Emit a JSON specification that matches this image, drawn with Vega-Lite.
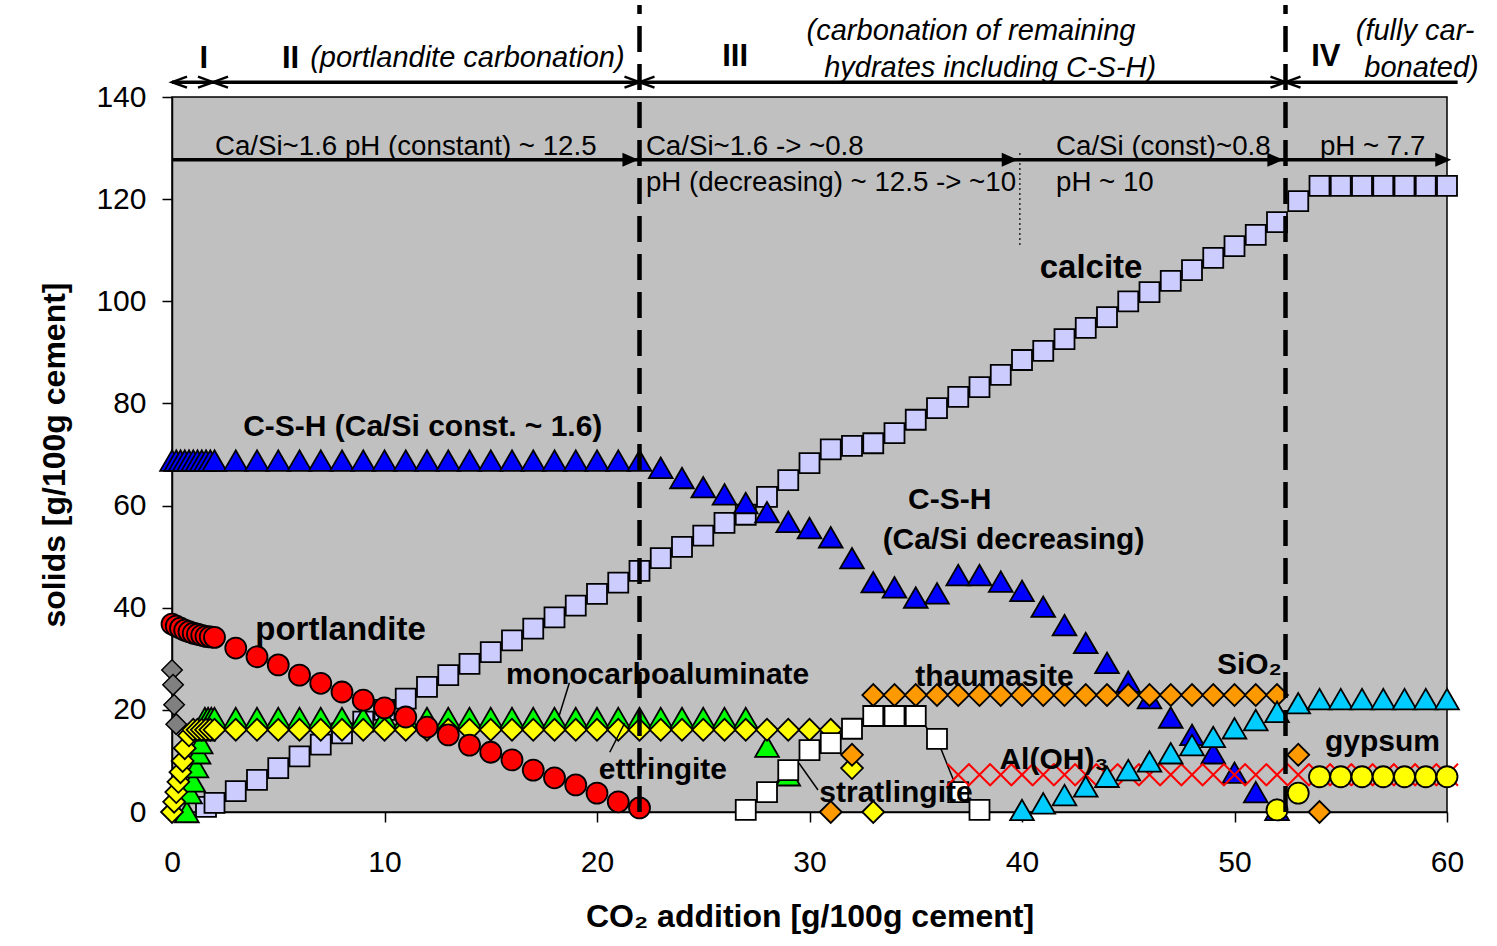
{
"$schema": "https://vega.github.io/schema/vega-lite/v6.json",
"width": 1275, "height": 715,
"autosize": {"type": "none"},
"padding": {"left": 172, "top": 97, "right": 50, "bottom": 134},
"background": "white",
"config": {
  "view": {"fill": "#C0C0C0", "stroke": "black", "strokeWidth": 1.5},
  "font": "Liberation Sans, Arial, sans-serif",
  "axis": {"grid": false, "domainColor": "black", "domainWidth": 1.5, "tickColor": "black", "tickWidth": 1.5, "tickSize": 10, "labelFlush": false,
           "labelFont": "Liberation Sans, Arial, sans-serif", "labelFontSize": 30, "labelColor": "black",
           "titleFont": "Liberation Sans, Arial, sans-serif", "titleFontSize": 32, "titleFontWeight": "bold", "titleColor": "black"}
},
"datasets": {
  "calcite": [{"x":1.6,"y":1.0},{"x":2,"y":1.8},{"x":3,"y":4.1},{"x":4,"y":6.3},{"x":5,"y":8.6},{"x":6,"y":10.9},{"x":7,"y":13.2},{"x":8,"y":15.4},{"x":9,"y":17.7},{"x":10,"y":20},{"x":11,"y":22.2},{"x":12,"y":24.5},{"x":13,"y":26.8},{"x":14,"y":29},{"x":15,"y":31.3},{"x":16,"y":33.6},{"x":17,"y":35.9},{"x":18,"y":38.1},{"x":19,"y":40.4},{"x":20,"y":42.7},{"x":21,"y":44.9},{"x":22,"y":47.2},{"x":23,"y":49.7},{"x":24,"y":51.9},{"x":25,"y":54.1},{"x":26,"y":56.6},{"x":27,"y":58.2},{"x":28,"y":61.7},{"x":29,"y":65},{"x":30,"y":68.3},{"x":31,"y":71},{"x":32,"y":71.7},{"x":33,"y":72.2},{"x":34,"y":74.2},{"x":35,"y":76.8},{"x":36,"y":79.1},{"x":37,"y":81.3},{"x":38,"y":83.2},{"x":39,"y":85.6},{"x":40,"y":88.5},{"x":41,"y":90.3},{"x":42,"y":92.6},{"x":43,"y":94.8},{"x":44,"y":96.9},{"x":45,"y":100},{"x":46,"y":101.8},{"x":47,"y":104},{"x":48,"y":106.1},{"x":49,"y":108.5},{"x":50,"y":110.8},{"x":51,"y":113},{"x":52,"y":115.5},{"x":53,"y":119.6},{"x":54,"y":122.6},{"x":55,"y":122.6},{"x":56,"y":122.6},{"x":57,"y":122.6},{"x":58,"y":122.6},{"x":59,"y":122.6},{"x":60,"y":122.6}],
  "csh": [{"x":0,"y":68.8},{"x":0.2,"y":68.8},{"x":0.4,"y":68.8},{"x":0.6,"y":68.8},{"x":0.8,"y":68.8},{"x":1.0,"y":68.8},{"x":1.2,"y":68.8},{"x":1.4,"y":68.8},{"x":1.6,"y":68.8},{"x":1.8,"y":68.8},{"x":2,"y":68.8},{"x":3,"y":68.8},{"x":4,"y":68.8},{"x":5,"y":68.8},{"x":6,"y":68.8},{"x":7,"y":68.8},{"x":8,"y":68.8},{"x":9,"y":68.8},{"x":10,"y":68.8},{"x":11,"y":68.8},{"x":12,"y":68.8},{"x":13,"y":68.8},{"x":14,"y":68.8},{"x":15,"y":68.8},{"x":16,"y":68.8},{"x":17,"y":68.8},{"x":18,"y":68.8},{"x":19,"y":68.8},{"x":20,"y":68.8},{"x":21,"y":68.8},{"x":22,"y":68.8},{"x":23,"y":67.4},{"x":24,"y":65.4},{"x":25,"y":63.6},{"x":26,"y":62.2},{"x":27,"y":60.5},{"x":28,"y":58.7},{"x":29,"y":56.8},{"x":30,"y":55.6},{"x":31,"y":53.8},{"x":32,"y":49.7},{"x":33,"y":45},{"x":34,"y":44},{"x":35,"y":42},{"x":36,"y":42.8},{"x":37,"y":46.4},{"x":38,"y":46.4},{"x":39,"y":45.1},{"x":40,"y":43.3},{"x":41,"y":40.2},{"x":42,"y":36.6},{"x":43,"y":33.1},{"x":44,"y":29.2},{"x":45,"y":25.5},{"x":46,"y":22.3},{"x":47,"y":18.5},{"x":48,"y":15.1},{"x":49,"y":11.5},{"x":50,"y":7.7},{"x":51,"y":3.9},{"x":52,"y":0.4}],
  "mono": [{"x":0.7,"y":0},{"x":0.85,"y":3.7},{"x":1.0,"y":6},{"x":1.15,"y":8.8},{"x":1.25,"y":11.5},{"x":1.35,"y":13.5},{"x":1.45,"y":16},{"x":1.55,"y":18.4},{"x":1.7,"y":18.4},{"x":1.85,"y":18.4},{"x":2,"y":18.4},{"x":3,"y":18.4},{"x":4,"y":18.4},{"x":5,"y":18.4},{"x":6,"y":18.4},{"x":7,"y":18.4},{"x":8,"y":18.4},{"x":9,"y":18.4},{"x":10,"y":18.4},{"x":11,"y":18.4},{"x":12,"y":18.4},{"x":13,"y":18.4},{"x":14,"y":18.4},{"x":15,"y":18.4},{"x":16,"y":18.4},{"x":17,"y":18.4},{"x":18,"y":18.4},{"x":19,"y":18.4},{"x":20,"y":18.4},{"x":21,"y":18.4},{"x":22,"y":18.4},{"x":23,"y":18.4},{"x":24,"y":18.4},{"x":25,"y":18.4},{"x":26,"y":18.4},{"x":27,"y":18.4},{"x":28,"y":12.8},{"x":29,"y":7.2}],
  "ett": [{"x":0,"y":0},{"x":0.1,"y":2},{"x":0.2,"y":3.9},{"x":0.3,"y":5.9},{"x":0.4,"y":7.8},{"x":0.5,"y":10},{"x":0.6,"y":12.5},{"x":0.8,"y":15},{"x":1.0,"y":16.1},{"x":1.2,"y":16.1},{"x":1.4,"y":16.1},{"x":1.6,"y":16.1},{"x":1.8,"y":16.1},{"x":2,"y":16.1},{"x":3,"y":16.1},{"x":4,"y":16.1},{"x":5,"y":16.1},{"x":6,"y":16.1},{"x":7,"y":16.1},{"x":8,"y":16.1},{"x":9,"y":16.1},{"x":10,"y":16.1},{"x":11,"y":16.1},{"x":12,"y":16.1},{"x":13,"y":16.1},{"x":14,"y":16.1},{"x":15,"y":16.1},{"x":16,"y":16.1},{"x":17,"y":16.1},{"x":18,"y":16.1},{"x":19,"y":16.1},{"x":20,"y":16.1},{"x":21,"y":16.1},{"x":22,"y":16.1},{"x":23,"y":16.1},{"x":24,"y":16.1},{"x":25,"y":16.1},{"x":26,"y":16.1},{"x":27,"y":16.1},{"x":28,"y":16.1},{"x":29,"y":16.1},{"x":30,"y":16.1},{"x":31,"y":16.1},{"x":32,"y":8.6},{"x":33,"y":0}],
  "port": [{"x":0,"y":36.8},{"x":0.2,"y":36.4},{"x":0.4,"y":36},{"x":0.6,"y":35.6},{"x":0.8,"y":35.3},{"x":1.0,"y":35},{"x":1.2,"y":34.8},{"x":1.4,"y":34.6},{"x":1.6,"y":34.4},{"x":1.8,"y":34.3},{"x":2,"y":34.2},{"x":3,"y":32.1},{"x":4,"y":30.4},{"x":5,"y":28.8},{"x":6,"y":26.8},{"x":7,"y":25.2},{"x":8,"y":23.5},{"x":9,"y":21.9},{"x":10,"y":20.4},{"x":11,"y":18.6},{"x":12,"y":16.6},{"x":13,"y":15.1},{"x":14,"y":13.1},{"x":15,"y":11.7},{"x":16,"y":10.2},{"x":17,"y":8.2},{"x":18,"y":6.7},{"x":19,"y":5.3},{"x":20,"y":3.7},{"x":21,"y":2},{"x":22,"y":0.8}],
  "gray": [{"x":0,"y":27.8},{"x":0.05,"y":24.9},{"x":0.1,"y":21},{"x":0.2,"y":17.2}],
  "strat": [{"x":27,"y":0.4},{"x":28,"y":3.9},{"x":29,"y":8.2},{"x":30,"y":12.1},{"x":31,"y":13.5},{"x":32,"y":16.3},{"x":33,"y":18.8},{"x":34,"y":18.8},{"x":35,"y":18.8},{"x":36,"y":14.3},{"x":37,"y":3.9},{"x":38,"y":0.4}],
  "thaum": [{"x":31,"y":0},{"x":32,"y":11.2},{"x":33,"y":22.9},{"x":34,"y":22.9},{"x":35,"y":22.9},{"x":36,"y":22.9},{"x":37,"y":22.9},{"x":38,"y":22.9},{"x":39,"y":22.9},{"x":40,"y":22.9},{"x":41,"y":22.9},{"x":42,"y":22.9},{"x":43,"y":22.9},{"x":44,"y":22.9},{"x":45,"y":22.9},{"x":46,"y":22.9},{"x":47,"y":22.9},{"x":48,"y":22.9},{"x":49,"y":22.9},{"x":50,"y":22.9},{"x":51,"y":22.9},{"x":52,"y":22.9},{"x":53,"y":11.2},{"x":54,"y":0}],
  "aloh": [{"x":37,"y":7.3},{"x":38,"y":7.3},{"x":39,"y":7.3},{"x":40,"y":7.3},{"x":41,"y":7.3},{"x":42,"y":7.3},{"x":43,"y":7.3},{"x":44,"y":7.3},{"x":45,"y":7.3},{"x":46,"y":7.3},{"x":47,"y":7.3},{"x":48,"y":7.3},{"x":49,"y":7.3},{"x":50,"y":7.3},{"x":51,"y":7.3},{"x":52,"y":7.3},{"x":53,"y":7.3},{"x":54,"y":7.3},{"x":55,"y":7.3},{"x":56,"y":7.3},{"x":57,"y":7.3},{"x":58,"y":7.3},{"x":59,"y":7.3},{"x":60,"y":7.3}],
  "sio2": [{"x":40,"y":0.4},{"x":41,"y":1.7},{"x":42,"y":3.3},{"x":43,"y":5},{"x":44,"y":6.9},{"x":45,"y":8.2},{"x":46,"y":9.9},{"x":47,"y":11.5},{"x":48,"y":13.1},{"x":49,"y":14.7},{"x":50,"y":16.4},{"x":51,"y":18},{"x":52,"y":19.6},{"x":53,"y":21.3},{"x":54,"y":22.1},{"x":55,"y":22.1},{"x":56,"y":22.1},{"x":57,"y":22.1},{"x":58,"y":22.1},{"x":59,"y":22.1},{"x":60,"y":22.1}],
  "gyp": [{"x":52,"y":0.4},{"x":53,"y":3.7},{"x":54,"y":6.9},{"x":55,"y":6.9},{"x":56,"y":6.9},{"x":57,"y":6.9},{"x":58,"y":6.9},{"x":59,"y":6.9},{"x":60,"y":6.9}],
  "rules": [
    {"k":"dash","x":22,"x2":22,"y":0,"y2":158},
    {"k":"dash","x":52.4,"x2":52.4,"y":0,"y2":158},
    {"k":"dot","x":39.9,"x2":39.9,"y":111,"y2":129.6},
    {"k":"arrow","x":0,"x2":60.5,"y":142.9,"y2":142.9},
    {"k":"arrow","x":0,"x2":60.0,"y":127.7,"y2":127.7},
    {"k":"leader","x":18.7,"x2":18.2,"y":25.3,"y2":18.6},
    {"k":"leader","x":21.3,"x2":20.6,"y":17.4,"y2":11.7},
    {"k":"leader","x":29.5,"x2":30.4,"y":9.6,"y2":4.3}
  ],
  "heads": [
    {"k":"lc","x":0,"y":142.9},{"k":"lc","x":1.93,"y":142.9},{"k":"lc","x":22,"y":142.9},{"k":"lc","x":52.4,"y":142.9},
    {"k":"rc","x":1.93,"y":142.9},{"k":"rc","x":22,"y":142.9},{"k":"rc","x":52.4,"y":142.9},
    {"k":"rf","x":21.95,"y":127.7},{"k":"rf","x":39.8,"y":127.7},{"k":"rf","x":52.3,"y":127.7},{"k":"rf","x":60.2,"y":127.7}
  ],
  "labels": [
    {"k":"roman","x":1.5,"y":147.5,"t":"I"},
    {"k":"roman","x":5.58,"y":147.5,"t":"II"},
    {"k":"roman","x":26.5,"y":147.8,"t":"III"},
    {"k":"roman","x":54.3,"y":147.8,"t":"IV"},
    {"k":"ital","x":13.9,"y":147.6,"t":"(portlandite carbonation)"},
    {"k":"ital","x":37.6,"y":152.9,"t":"(carbonation of remaining"},
    {"k":"ital","x":38.5,"y":145.7,"t":"hydrates including C-S-H)"},
    {"k":"ital","x":58.5,"y":152.9,"t":"(fully car-"},
    {"k":"ital","x":58.8,"y":145.7,"t":"bonated)"},
    {"k":"norm","x":11,"y":130.2,"t":"Ca/Si~1.6 pH (constant) ~ 12.5"},
    {"k":"norm","x":56.5,"y":130.2,"t":"pH ~ 7.7"},
    {"k":"normL","x":22.3,"y":130.2,"t":"Ca/Si~1.6 -> ~0.8"},
    {"k":"normL","x":22.3,"y":123.2,"t":"pH (decreasing) ~ 12.5 -> ~10"},
    {"k":"normL","x":41.6,"y":130.2,"t":"Ca/Si (const)~0.8"},
    {"k":"normL","x":41.6,"y":123.2,"t":"pH ~ 10"},
    {"k":"bold","x":11.8,"y":75.4,"t":"C-S-H (Ca/Si const. ~ 1.6)"},
    {"k":"bold","x":22.85,"y":26.8,"t":"monocarboaluminate"},
    {"k":"bold","x":23.1,"y":8.2,"t":"ettringite"},
    {"k":"bold","x":34.07,"y":3.7,"t":"stratlingite"},
    {"k":"bold","x":36.6,"y":61.1,"t":"C-S-H"},
    {"k":"bold","x":39.6,"y":53.3,"t":"(Ca/Si decreasing)"},
    {"k":"bold","x":38.7,"y":26.4,"t":"thaumasite"},
    {"k":"bold","x":50.7,"y":28.8,"t":"SiO₂"},
    {"k":"bold","x":41.5,"y":10.2,"t":"Al(OH)₃"},
    {"k":"bold","x":56.96,"y":13.7,"t":"gypsum"},
    {"k":"big","x":7.93,"y":35.6,"t":"portlandite"},
    {"k":"big","x":43.25,"y":106.5,"t":"calcite"}
  ]
},
"encoding": {
  "x": {"field": "x", "type": "quantitative", "scale": {"domain": [0, 60], "nice": false, "zero": false},
        "axis": {"values": [0,10,20,30,40,50,60], "title": "CO₂ addition [g/100g cement]", "labelPadding": 25, "titlePadding": 24}},
  "y": {"field": "y", "type": "quantitative", "scale": {"domain": [0, 140], "nice": false, "zero": false},
        "axis": {"values": [0,20,40,60,80,100,120,140], "title": "solids [g/100g cement]", "labelPadding": 16, "titlePadding": 24}}
},
"layer": [
  {"data": {"name": "calcite"}, "mark": {"type": "point", "shape": "square", "size": 400, "filled": true, "fill": "#CCCCFF", "stroke": "black", "strokeWidth": 1.8, "opacity": 1}},
  {"data": {"name": "csh"}, "mark": {"type": "point", "shape": "triangle-up", "size": 560, "filled": true, "fill": "#0000FF", "stroke": "black", "strokeWidth": 1.8, "opacity": 1}},
  {"data": {"name": "mono"}, "mark": {"type": "point", "shape": "triangle-up", "size": 560, "filled": true, "fill": "#00FF00", "stroke": "black", "strokeWidth": 1.8, "opacity": 1}},
  {"data": {"name": "ett"}, "mark": {"type": "point", "shape": "diamond", "size": 480, "filled": true, "fill": "#FFFF00", "stroke": "black", "strokeWidth": 1.8, "opacity": 1}},
  {"data": {"name": "port"}, "mark": {"type": "point", "shape": "circle", "size": 441, "filled": true, "fill": "#FF0000", "stroke": "black", "strokeWidth": 1.8, "opacity": 1}},
  {"data": {"name": "gray"}, "mark": {"type": "point", "shape": "diamond", "size": 420, "filled": true, "fill": "#808080", "stroke": "black", "strokeWidth": 1.5, "opacity": 1}},
  {"data": {"name": "strat"}, "mark": {"type": "line", "color": "black", "strokeWidth": 1.5}, "encoding": {}},
  {"data": {"name": "strat"}, "mark": {"type": "point", "shape": "square", "size": 400, "filled": true, "fill": "#FFFFFF", "stroke": "black", "strokeWidth": 1.8, "opacity": 1}},
  {"data": {"name": "thaum"}, "mark": {"type": "point", "shape": "diamond", "size": 480, "filled": true, "fill": "#FF9900", "stroke": "black", "strokeWidth": 1.8, "opacity": 1}},
  {"data": {"name": "aloh"}, "mark": {"type": "point", "shape": "M-1,-1L1,1M-1,1L1,-1", "size": 484, "filled": false, "stroke": "#FF0000", "strokeWidth": 2, "opacity": 1}},
  {"data": {"name": "sio2"}, "mark": {"type": "point", "shape": "triangle-up", "size": 560, "filled": true, "fill": "#00CCFF", "stroke": "black", "strokeWidth": 1.8, "opacity": 1}},
  {"data": {"name": "gyp"}, "mark": {"type": "point", "shape": "circle", "size": 441, "filled": true, "fill": "#FFFF00", "stroke": "black", "strokeWidth": 1.8, "opacity": 1}},
  {"data": {"name": "rules"}, "transform": [{"filter": "datum.k == 'dash'"}], "mark": {"type": "rule", "color": "black", "strokeWidth": 4.5, "strokeDash": [26, 12]}, "encoding": {"x2": {"field": "x2"}, "y2": {"field": "y2"}}},
  {"data": {"name": "rules"}, "transform": [{"filter": "datum.k == 'dot'"}], "mark": {"type": "rule", "color": "black", "strokeWidth": 1.2, "strokeDash": [2, 3]}, "encoding": {"x2": {"field": "x2"}, "y2": {"field": "y2"}}},
  {"data": {"name": "rules"}, "transform": [{"filter": "datum.k == 'arrow'"}], "mark": {"type": "rule", "color": "black", "strokeWidth": 3.5}, "encoding": {"x2": {"field": "x2"}, "y2": {"field": "y2"}}},
  {"data": {"name": "rules"}, "transform": [{"filter": "datum.k == 'leader'"}], "mark": {"type": "rule", "color": "black", "strokeWidth": 1.5}, "encoding": {"x2": {"field": "x2"}, "y2": {"field": "y2"}}},
  {"data": {"name": "heads"}, "transform": [{"filter": "datum.k == 'lc'"}], "mark": {"type": "point", "shape": "M3,-1.1L0,0L3,1.1", "size": 100, "filled": false, "stroke": "black", "strokeWidth": 2.5, "opacity": 1}},
  {"data": {"name": "heads"}, "transform": [{"filter": "datum.k == 'rc'"}], "mark": {"type": "point", "shape": "M-3,-1.1L0,0L-3,1.1", "size": 100, "filled": false, "stroke": "black", "strokeWidth": 2.5, "opacity": 1}},
  {"data": {"name": "heads"}, "transform": [{"filter": "datum.k == 'rf'"}], "mark": {"type": "point", "shape": "M0,0L-3.2,-1.4L-3.2,1.4Z", "size": 100, "filled": true, "fill": "black", "strokeWidth": 0, "opacity": 1}},
  {"data": {"name": "labels"}, "transform": [{"filter": "datum.k == 'roman'"}], "mark": {"type": "text", "font": "Liberation Sans, Arial, sans-serif", "fontSize": 31, "fontWeight": "bold", "align": "center", "baseline": "middle", "color": "black"}, "encoding": {"text": {"field": "t"}}},
  {"data": {"name": "labels"}, "transform": [{"filter": "datum.k == 'ital'"}], "mark": {"type": "text", "font": "Liberation Sans, Arial, sans-serif", "fontSize": 29, "fontStyle": "italic", "align": "center", "baseline": "middle", "color": "black"}, "encoding": {"text": {"field": "t"}}},
  {"data": {"name": "labels"}, "transform": [{"filter": "datum.k == 'norm'"}], "mark": {"type": "text", "font": "Liberation Sans, Arial, sans-serif", "fontSize": 27.7, "align": "center", "baseline": "middle", "color": "black"}, "encoding": {"text": {"field": "t"}}},
  {"data": {"name": "labels"}, "transform": [{"filter": "datum.k == 'normL'"}], "mark": {"type": "text", "font": "Liberation Sans, Arial, sans-serif", "fontSize": 27.7, "align": "left", "baseline": "middle", "color": "black"}, "encoding": {"text": {"field": "t"}}},
  {"data": {"name": "labels"}, "transform": [{"filter": "datum.k == 'bold'"}], "mark": {"type": "text", "font": "Liberation Sans, Arial, sans-serif", "fontSize": 30, "fontWeight": "bold", "align": "center", "baseline": "middle", "color": "black"}, "encoding": {"text": {"field": "t"}}},
  {"data": {"name": "labels"}, "transform": [{"filter": "datum.k == 'big'"}], "mark": {"type": "text", "font": "Liberation Sans, Arial, sans-serif", "fontSize": 33, "fontWeight": "bold", "align": "center", "baseline": "middle", "color": "black"}, "encoding": {"text": {"field": "t"}}}
]
}
